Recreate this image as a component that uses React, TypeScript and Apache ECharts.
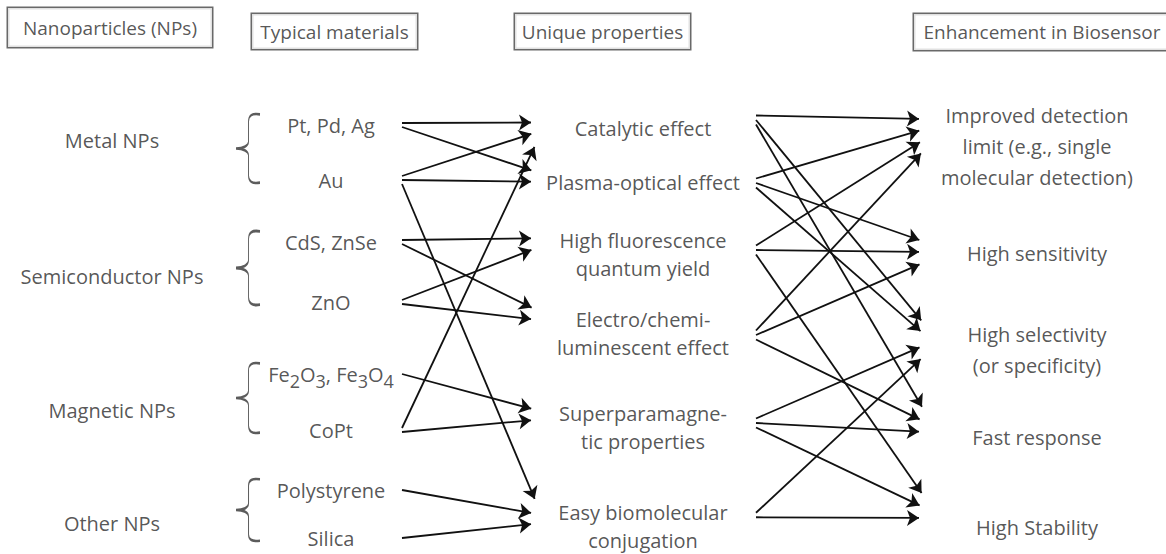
import React, { useEffect, useRef } from "react";
import * as echarts from "echarts";

// ---------- data ----------
const headers = ["Nanoparticles (NPs)", "Typical materials", "Unique properties", "Enhancement in Biosensor"];
const npTypes = ["Metal NPs", "Semiconductor NPs", "Magnetic NPs", "Other NPs"];
const materials = ["Pt, Pd, Ag", "Au", "CdS, ZnSe", "ZnO", "Fe2O3, Fe3O4", "CoPt", "Polystyrene", "Silica"];
const materialGroups = [[0, 1], [2, 3], [4, 5], [6, 7]];
const properties = [
  "Catalytic effect",
  "Plasma-optical effect",
  "High fluorescence\nquantum yield",
  "Electro/chemi-\nluminescent effect",
  "Superparamagne-\ntic properties",
  "Easy biomolecular\nconjugation",
];
const enhancements = [
  "Improved detection\nlimit (e.g., single\nmolecular detection)",
  "High sensitivity",
  "High selectivity\n(or specificity)",
  "Fast response",
  "High Stability",
];
// [material index, property index]
const materialToProperty = [
  [0, 0], [0, 1], [1, 0], [1, 1], [1, 5], [2, 2], [2, 3], [3, 2], [3, 3],
  [4, 4], [5, 0], [5, 4], [6, 5], [7, 5],
];
// [property index, enhancement index]
const propertyToEnhancement = [
  [0, 0], [0, 2], [0, 3], [1, 0], [1, 1], [1, 2], [2, 0], [2, 1], [2, 4],
  [3, 0], [3, 1], [3, 3], [4, 2], [4, 3], [4, 4], [5, 2], [5, 4],
];

// ---------- layout ----------
const W = 1166;
const H = 554;
const FONT = "'Open Sans', sans-serif";
const TEXT_COLOR = "#2b2b2b";
const FS = 20;
const HEADER_FS = 19;
const headerX = [110, 334.5, 602.5, 1042];
const headerY = [27.5, 31.5, 31.5, 32];
const headerW = [204, 165, 175, 256];
const headerH = [39, 35, 35, 36];
const npX = 112;
const npY = [140, 276, 410, 523];
const braceX = 248;
const matX = 331;
const matY = [125, 180, 242, 302, 374, 430, 490, 538];
const propX = 643;
const propY = [128, 182, 254, 333, 427, 526];
const propInY = [132, 177, 243, 315, 415, 514];
const propOutY = [120, 183, 250, 335, 423, 515];
const enhX = 1037;
const enhY = [146, 253, 350, 437, 527];
const enhInY = [134, 252, 340, 422, 508];
const matOutX = 402;
const propInX = 537;
const propOutX = 756;
const enhInX = 925;
const ARROW = 12;

const bracePath =
  "path://M24,2 C16,0 13,4 13,12 L13,40 C13,46 8,50 1,50 C8,50 13,54 13,60 L13,88 C13,96 16,100 24,98";

function buildArrows(
  links: number[][],
  srcX: number,
  srcY: number[],
  tgtX: number,
  tgtY: number[],
  srcSpread: number,
  tgtSpread: number
) {
  const srcOff = links.map(() => 0);
  const tgtOff = links.map(() => 0);
  const bySrc: Record<number, number[]> = {};
  const byTgt: Record<number, number[]> = {};
  links.forEach((l, i) => {
    (bySrc[l[0]] = bySrc[l[0]] || []).push(i);
    (byTgt[l[1]] = byTgt[l[1]] || []).push(i);
  });
  Object.values(bySrc).forEach((idx) => {
    idx.sort((a, b) => tgtY[links[a][1]] - tgtY[links[b][1]]);
    idx.forEach((li, k) => (srcOff[li] = (k - (idx.length - 1) / 2) * srcSpread));
  });
  Object.values(byTgt).forEach((idx) => {
    idx.sort((a, b) => srcY[links[a][0]] - srcY[links[b][0]]);
    idx.forEach((li, k) => (tgtOff[li] = (k - (idx.length - 1) / 2) * tgtSpread));
  });
  return links.map((l, i) => {
    const x1 = srcX;
    const y1 = srcY[l[0]] + srcOff[i];
    const x2 = tgtX;
    const y2 = tgtY[l[1]] + tgtOff[i];
    const dx = x2 - x1;
    const dy = y2 - y1;
    const len = Math.hypot(dx, dy);
    return {
      coords: [
        [x1, y1],
        [x2 - (dx / len) * (ARROW / 2), y2 - (dy / len) * (ARROW / 2)],
      ],
    };
  });
}

const textLabel = (lineHeight = 29) => ({
  show: true,
  position: "inside",
  fontFamily: FONT,
  fontSize: FS,
  color: TEXT_COLOR,
  lineHeight,
  align: "center",
  verticalAlign: "middle",
  formatter: "{b}",
});

export default function App() {
  const ref = useRef<HTMLDivElement>(null);
  useEffect(() => {
    document.body.style.margin = "0";
    const chart = echarts.init(ref.current!, null, { renderer: "svg" });
    const braceData = materialGroups.map((g) => {
      const top = matY[g[0]] - 11;
      const bottom = matY[g[g.length - 1]] + 3;
      return { value: [braceX, (top + bottom) / 2], symbolSize: [24, bottom - top] };
    });
    const option: any = {
      animation: false,
      backgroundColor: "#ffffff",
      grid: { left: 0, right: 0, top: 0, bottom: 0 },
      xAxis: { type: "value", min: 0, max: W, show: false },
      yAxis: { type: "value", min: 0, max: H, inverse: true, show: false },
      series: [
        {
          type: "lines",
          coordinateSystem: "cartesian2d",
          z: 1,
          silent: true,
          symbol: ["none", "arrow"],
          symbolSize: ARROW,
          lineStyle: { color: "#111", width: 1.8, opacity: 1 },
          data: buildArrows(materialToProperty, matOutX, matY, propInX, propInY, 4, 9.5),
        },
        {
          type: "lines",
          coordinateSystem: "cartesian2d",
          z: 1,
          silent: true,
          symbol: ["none", "arrow"],
          symbolSize: ARROW,
          lineStyle: { color: "#111", width: 1.8, opacity: 1 },
          data: buildArrows(propertyToEnhancement, propOutX, propOutY, enhInX, enhInY, 4.5, 10),
        },
        {
          type: "scatter",
          z: 3,
          silent: true,
          symbolSize: 0,
          data: headers.map((h, i) => ({
            name: h,
            value: [headerX[i], headerY[i]],
            label: {
              show: true,
              position: "inside",
              fontFamily: FONT,
              fontSize: HEADER_FS,
              color: TEXT_COLOR,
              width: headerW[i],
              height: headerH[i],
              lineHeight: headerH[i],
              align: "center",
              verticalAlign: "middle",
              padding: 0,
              borderColor: "#444",
              borderWidth: 1.5,
              backgroundColor: "#fff",
              formatter: "{b}",
            },
          })),
        },
        {
          type: "scatter",
          z: 3,
          silent: true,
          symbolSize: 0,
          label: textLabel(),
          data: npTypes.map((n, i) => ({ name: n, value: [npX, npY[i]] })),
        },
        {
          type: "scatter",
          z: 3,
          silent: true,
          symbol: bracePath,
          symbolKeepAspect: false,
          itemStyle: { color: "transparent", borderColor: "#333", borderWidth: 1.6 },
          data: braceData,
        },
        {
          type: "scatter",
          z: 3,
          silent: true,
          symbolSize: 0,
          label: {
            ...textLabel(),
            formatter: (p: any) => p.name.replace(/(\d)/g, "{s|$1}"),
            rich: {
              s: { fontFamily: FONT, fontSize: 18, color: TEXT_COLOR, padding: [14, 0, 0, 0] },
            },
          },
          data: materials.map((n, i) => ({ name: n, value: [matX, matY[i]] })),
        },
        {
          type: "scatter",
          z: 3,
          silent: true,
          symbolSize: 0,
          label: textLabel(28),
          data: properties.map((n, i) => ({ name: n, value: [propX, propY[i]] })),
        },
        {
          type: "scatter",
          z: 3,
          silent: true,
          symbolSize: 0,
          label: textLabel(31),
          data: enhancements.map((n, i) => ({ name: n, value: [enhX, enhY[i]] })),
        },
      ],
    };
    chart.setOption(option);
    return () => chart.dispose();
  }, []);
  return <div ref={ref} style={{ width: W, height: H, background: "#fff" }} />;
}
